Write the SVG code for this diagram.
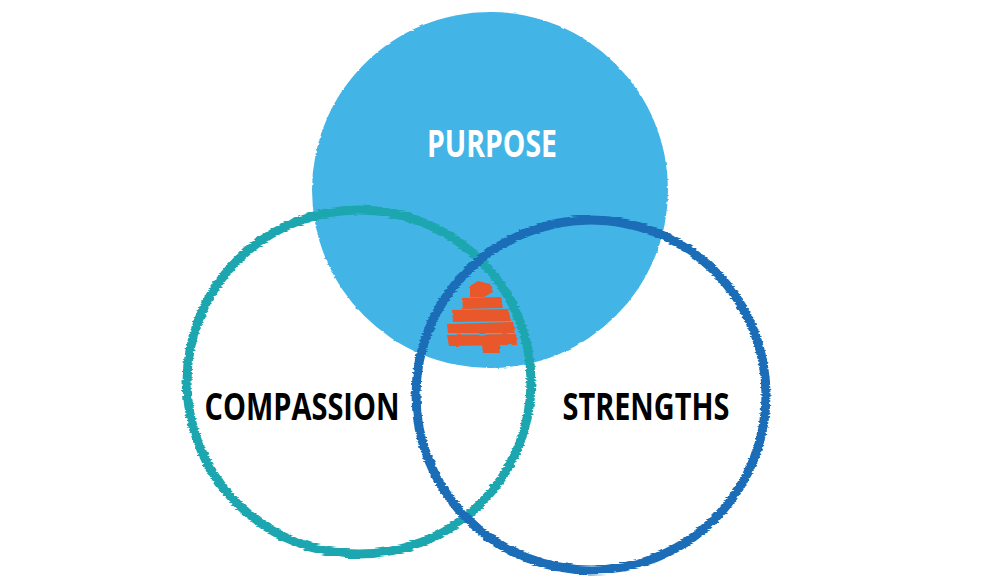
<svg xmlns="http://www.w3.org/2000/svg" width="985" height="582" viewBox="0 0 985 582">
  <defs>
    <filter id="brush" x="-10%" y="-10%" width="120%" height="120%">
      <feTurbulence type="fractalNoise" baseFrequency="0.04 0.6" numOctaves="2" seed="3" result="n"/>
      <feDisplacementMap in="SourceGraphic" in2="n" scale="4" xChannelSelector="R" yChannelSelector="G"/>
    </filter>
    <filter id="rough" x="-10%" y="-10%" width="120%" height="120%">
      <feTurbulence type="fractalNoise" baseFrequency="0.08 0.3" numOctaves="2" seed="7" result="n"/>
      <feDisplacementMap in="SourceGraphic" in2="n" scale="2.5" xChannelSelector="R" yChannelSelector="G"/>
    </filter>
  </defs>
  <style>
    .lbl { font-family: "Open Sans", "Liberation Sans", sans-serif; font-weight: 700; font-size: 38px; text-anchor: middle; }
    .ring { fill: none; stroke-width: 9; }
    .scrib { fill: #E8582A; }
  </style>
  <rect width="985" height="582" fill="#FFFFFF"/>

  <g id="purpose">
    <circle cx="490" cy="190" r="178" fill="#42B4E6" filter="url(#rough)"/>
  </g>

  <g id="overlap-mark" filter="url(#rough)">
    <polygon class="scrib" points="470,286 478,281 490,284 493,292 484,297 470,297"/>
    <polygon class="scrib" points="462,298 501,297 503,308 463,309"/>
    <polygon class="scrib" points="452,310 508,309 511,321 453,322"/>
    <polygon class="scrib" points="447,324 513,322 515,333 448,333"/>
    <polygon class="scrib" points="447,335 516,334 517,345 449,346"/>
    <polygon class="scrib" points="482,345 500,345 500,353 483,353"/>
  </g>

  <g id="compassion">
    <circle class="ring" cx="359" cy="382" r="172" stroke="#1FA6B0" filter="url(#brush)"/>
    <text class="lbl" x="302" y="420" fill="#000000" textLength="195" lengthAdjust="spacingAndGlyphs">COMPASSION</text>
  </g>

  <g id="strengths">
    <circle class="ring" cx="591" cy="395" r="175" stroke="#1A6DB8" filter="url(#brush)"/>
    <text class="lbl" x="646" y="420" fill="#000000" textLength="167" lengthAdjust="spacingAndGlyphs">STRENGTHS</text>
  </g>

  <g id="purpose-label">
    <text class="lbl" x="492" y="157" fill="#FFFFFF" textLength="130" lengthAdjust="spacingAndGlyphs">PURPOSE</text>
  </g>
</svg>
